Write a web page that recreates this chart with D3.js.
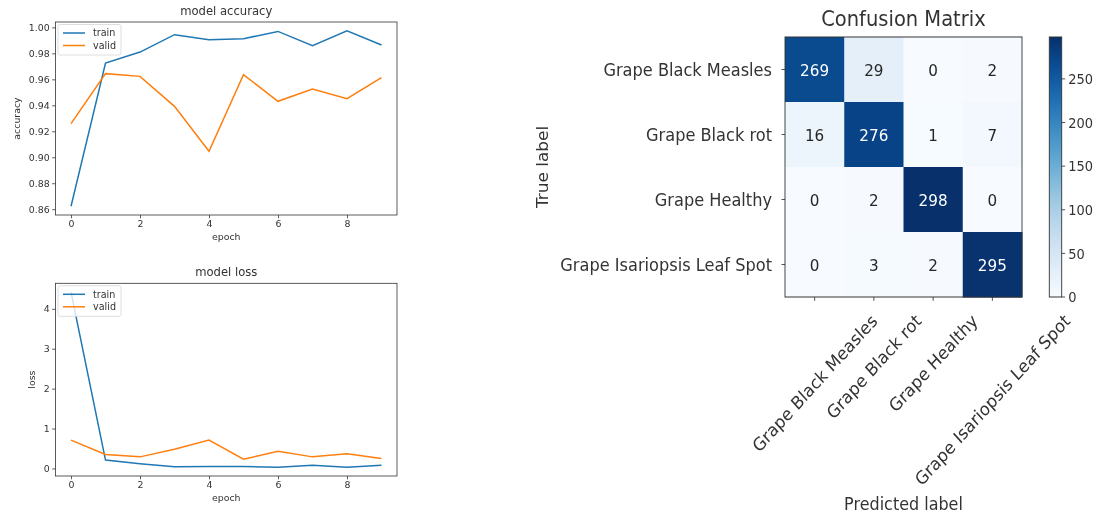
<!DOCTYPE html>
<html>
<head>
<meta charset="utf-8">
<script src="https://cdn.jsdelivr.net/npm/d3@7"></script>
<style>
  html, body { margin: 0; padding: 0; background: #fff; }
  svg { display: block; font-family: "DejaVu Sans", sans-serif; filter: blur(0.6px); }
</style>
</head>
<body>
<svg id="chart" width="1109" height="515"></svg>
<script>
// ---- training history ----
const epochs = [0, 1, 2, 3, 4, 5, 6, 7, 8, 9];
const trainAcc = [0.8623, 0.9725, 0.9810, 0.9944, 0.9905, 0.9913, 0.9969, 0.9859, 0.9974, 0.9864];
const validAcc = [0.9259, 0.9644, 0.9623, 0.9392, 0.9046, 0.9636, 0.9431, 0.9526, 0.9451, 0.9613];
const trainLoss = [4.42, 0.21, 0.12, 0.04, 0.05, 0.05, 0.03, 0.08, 0.03, 0.08];
const validLoss = [0.71, 0.35, 0.29, 0.48, 0.71, 0.23, 0.43, 0.29, 0.37, 0.25];
const epochTicks = [0, 2, 4, 6, 8];
const accTicks = [0.86, 0.88, 0.90, 0.92, 0.94, 0.96, 0.98, 1.00];
const lossTicks = [0, 1, 2, 3, 4];
const legendNames = ["train", "valid"];

// ---- confusion matrix ----
const classNames = ["Grape Black Measles", "Grape Black rot", "Grape Healthy", "Grape Isariopsis Leaf Spot"];
const confusion = [
  [269, 29, 0, 2],
  [16, 276, 1, 7],
  [0, 2, 298, 0],
  [0, 3, 2, 295]
];
const colorbarTicks = [0, 50, 100, 150, 200, 250];

const svg = d3.select("#chart");
const TRAIN = "#1f77b4", VALID = "#ff7f0e", INK = "#333";

function historyPanel(opt) {
  const g = svg.append("g");
  const x = d3.scaleLinear().domain([-0.45, 9.45]).range([opt.left, opt.right]);
  const all = opt.series[0].concat(opt.series[1]);
  const [lo, hi] = d3.extent(all);
  const pad = (hi - lo) * 0.05;
  const y = d3.scaleLinear().domain([lo - pad, hi + pad]).range([opt.bottom, opt.top]);

  // title
  g.append("text").attr("x", (opt.left + opt.right) / 2).attr("y", opt.top - 7)
    .attr("text-anchor", "middle").attr("font-size", 11.6).attr("fill", INK).text(opt.title);

  // axes
  const xAxis = g.append("g").attr("transform", `translate(0,${opt.bottom})`)
    .call(d3.axisBottom(x).tickValues(epochTicks).tickSize(3.3).tickPadding(2.5).tickFormat(d3.format("d")));
  const yAxis = g.append("g").attr("transform", `translate(${opt.left},0)`)
    .call(d3.axisLeft(y).tickValues(opt.ticks).tickSize(3.3).tickPadding(2.5).tickFormat(opt.fmt));
  [xAxis, yAxis].forEach(a => {
    a.select(".domain").remove();
    a.selectAll("line").attr("stroke", INK).attr("stroke-width", 0.8);
    a.selectAll("text").attr("font-size", 9.4).attr("fill", INK).attr("font-family", "DejaVu Sans, sans-serif");
  });

  // lines
  const line = d3.line().x((d, i) => x(epochs[i])).y(d => y(d));
  const clip = "clip" + opt.title.replace(/\s/g, "");
  g.append("clipPath").attr("id", clip).append("rect")
    .attr("x", opt.left).attr("y", opt.top).attr("width", opt.right - opt.left).attr("height", opt.bottom - opt.top);
  [TRAIN, VALID].forEach((c, k) => {
    g.append("path").datum(opt.series[k]).attr("d", line).attr("fill", "none")
      .attr("stroke", c).attr("stroke-width", 1.5).attr("clip-path", `url(#${clip})`);
  });

  // frame
  g.append("rect").attr("x", opt.left).attr("y", opt.top)
    .attr("width", opt.right - opt.left).attr("height", opt.bottom - opt.top)
    .attr("fill", "none").attr("stroke", INK).attr("stroke-width", 0.8);

  // axis labels
  g.append("text").attr("x", (opt.left + opt.right) / 2).attr("y", opt.bottom + 25)
    .attr("text-anchor", "middle").attr("font-size", 9.4).attr("fill", INK).text("epoch");
  let tickLeft = opt.left;
  yAxis.selectAll("text").each(function () { tickLeft = Math.min(tickLeft, this.getBBox().x + opt.left); });
  g.append("text").attr("transform", `translate(${tickLeft - 9},${(opt.top + opt.bottom) / 2}) rotate(-90)`)
    .attr("text-anchor", "middle").attr("font-size", 9.4).attr("fill", INK).text(opt.ylabel);

  // legend
  const lg = g.append("g").attr("transform", `translate(${opt.left + 2.5},${opt.top + 2.5})`);
  lg.append("rect").attr("width", 63).attr("height", 30.5).attr("rx", 2)
    .attr("fill", "#fff").attr("fill-opacity", 0.8).attr("stroke", "#d6d6d6").attr("stroke-width", 0.8);
  legendNames.forEach((n, k) => {
    const yy = 8.5 + k * 12.5;
    lg.append("line").attr("x1", 5).attr("x2", 27).attr("y1", yy).attr("y2", yy)
      .attr("stroke", k ? VALID : TRAIN).attr("stroke-width", 1.5);
    lg.append("text").attr("x", 35).attr("y", yy).attr("dy", "0.35em")
      .attr("font-size", 9.6).attr("fill", INK).text(n);
  });
}

historyPanel({ left: 55.5, right: 397, top: 22, bottom: 215, title: "model accuracy", ylabel: "accuracy",
  series: [trainAcc, validAcc], ticks: accTicks, fmt: d3.format(".2f") });
historyPanel({ left: 55.5, right: 397, top: 283.3, bottom: 476, title: "model loss", ylabel: "loss",
  series: [trainLoss, validLoss], ticks: lossTicks, fmt: d3.format("d") });

// ---- confusion matrix panel (drawn in a vertically stretched frame) ----
const SY = 1.1;
const cm = svg.append("g").attr("transform", `translate(0,37) scale(1,${SY})`);
const mLeft = 785, mRight = 1022, mH = 260 / SY;
const cx = d3.scaleBand().domain(classNames).range([mLeft, mRight]);
const cy = d3.scaleBand().domain(classNames).range([0, mH]);
const vmax = d3.max(confusion.flat());
const color = d3.scaleSequential(d3.interpolateBlues).domain([0, vmax]);

cm.append("text").attr("x", (mLeft + mRight) / 2).attr("y", -10).attr("text-anchor", "middle")
  .attr("font-size", 19.5).attr("fill", INK).text("Confusion Matrix");

const cells = confusion.flatMap((row, i) => row.map((v, j) => ({ i, j, v })));
cm.selectAll("rect.cell").data(cells).join("rect").attr("class", "cell")
  .attr("x", d => cx(classNames[d.j])).attr("y", d => cy(classNames[d.i]))
  .attr("width", cx.bandwidth() + 0.5).attr("height", cy.bandwidth() + 0.5)
  .attr("fill", d => color(d.v));
cm.selectAll("text.val").data(cells).join("text").attr("class", "val")
  .attr("x", d => cx(classNames[d.j]) + cx.bandwidth() / 2)
  .attr("y", d => cy(classNames[d.i]) + cy.bandwidth() / 2)
  .attr("dy", "0.36em").attr("text-anchor", "middle").attr("font-size", 15.2)
  .attr("fill", d => d.v > vmax / 2 ? "#fff" : "#262626").text(d => d.v);
cm.append("rect").attr("x", mLeft).attr("y", 0).attr("width", mRight - mLeft).attr("height", mH)
  .attr("fill", "none").attr("stroke", INK).attr("stroke-width", 0.9);

// y ticks
classNames.forEach(n => {
  const yy = cy(n) + cy.bandwidth() / 2;
  cm.append("line").attr("x1", mLeft - 3.5).attr("x2", mLeft).attr("y1", yy).attr("y2", yy)
    .attr("stroke", INK).attr("stroke-width", 0.8);
  cm.append("text").attr("x", mLeft - 13).attr("y", yy).attr("dy", "0.36em").attr("text-anchor", "end")
    .attr("font-size", 16.2).attr("fill", INK).text(n);
});
// x ticks, rotated 45 degrees, centred under each tick
classNames.forEach(n => {
  const xx = cx(n) + cx.bandwidth() / 2;
  cm.append("line").attr("x1", xx).attr("x2", xx).attr("y1", mH).attr("y2", mH + 3.5)
    .attr("stroke", INK).attr("stroke-width", 0.8);
  const t = cm.append("text").attr("text-anchor", "middle").attr("font-size", 16.2)
    .attr("fill", INK).attr("dy", "0.36em").text(n);
  const w = t.node().getComputedTextLength();
  const half = (w + 16.2) / (2 * Math.SQRT2);
  t.attr("transform", `translate(${xx},${mH + 13 + half}) rotate(-45)`);
});
cm.append("text").attr("x", (mLeft + mRight) / 2).attr("y", (510 - 37) / SY).attr("text-anchor", "middle")
  .attr("font-size", 16).attr("fill", INK).text("Predicted label");
cm.append("text").attr("transform", `translate(548,${mH / 2}) rotate(-90)`).attr("text-anchor", "middle")
  .attr("font-size", 15.4).attr("fill", INK).text("True label");

// colorbar
const cbL = 1049.3, cbW = 12.4;
const cbY = d3.scaleLinear().domain([0, vmax]).range([mH, 0]);
const grad = svg.append("defs").append("linearGradient").attr("id", "cbgrad")
  .attr("x1", 0).attr("y1", 1).attr("x2", 0).attr("y2", 0);
d3.range(0, 1.0001, 0.05).forEach(t => grad.append("stop").attr("offset", t).attr("stop-color", d3.interpolateBlues(t)));
cm.append("rect").attr("x", cbL).attr("y", 0).attr("width", cbW).attr("height", mH)
  .attr("fill", "url(#cbgrad)").attr("stroke", INK).attr("stroke-width", 0.9);
colorbarTicks.forEach(v => {
  const yy = cbY(v);
  cm.append("line").attr("x1", cbL + cbW).attr("x2", cbL + cbW + 3.5).attr("y1", yy).attr("y2", yy)
    .attr("stroke", INK).attr("stroke-width", 0.8);
  cm.append("text").attr("x", cbL + cbW + 6.5).attr("y", yy).attr("dy", "0.36em")
    .attr("font-size", 13).attr("fill", INK).text(v);
});
</script>
</body>
</html>
